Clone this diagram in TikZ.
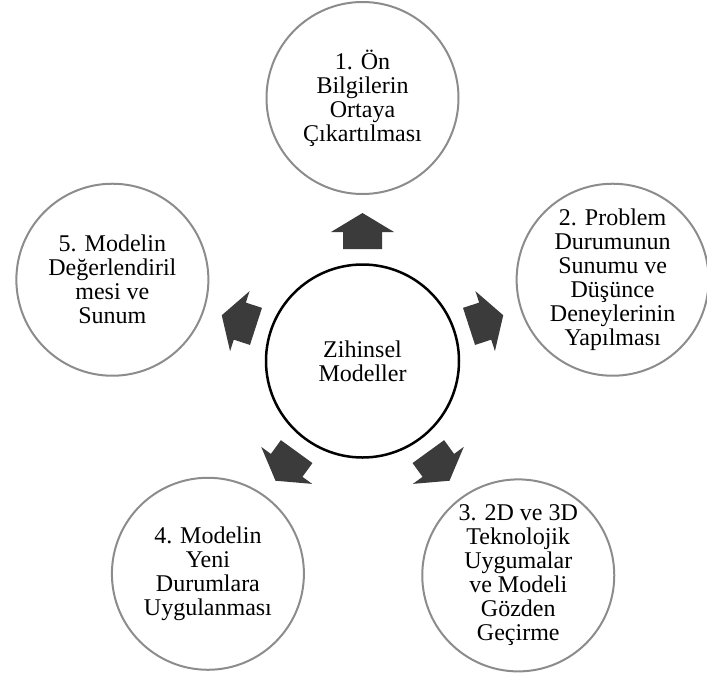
\documentclass[tikz,border=0pt]{standalone}
\usepackage{fontspec}
\setmainfont{Liberation Serif}
\usetikzlibrary{calc}
\definecolor{halkagri}{HTML}{8C8C8C}
\definecolor{okgri}{HTML}{3B3B3B}

\begin{document}
\begin{tikzpicture}[x=1pt,y=1pt,
  adim/.style={circle,draw=halkagri,line width=2pt,minimum size=192pt,inner sep=0pt,align=center,font=\fontsize{24}{24}\selectfont},
  merkezstil/.style={circle,draw=black,line width=2.5pt,minimum size=193pt,inner sep=0pt,align=center,font=\fontsize{24}{24}\selectfont}]
\useasboundingbox (0,0) rectangle (707,-675);
\coordinate (C) at (362.5,-361);
\node[merkezstil] (merkez) at (C) {Zihinsel\\Modeller};
\node[adim] (a1) at ($(C)+(90:263)$) {1. Ön\\Bilgilerin\\Ortaya\\Çıkartılması};
\node[adim] (a2) at ($(C)+(18:263)$) {2. Problem\\Durumunun\\Sunumu ve\\Düşünce\\Deneylerinin\\Yapılması};
\node[adim] (a3) at ($(C)+(-54:265)$) {3. 2D ve 3D\\Teknolojik\\Uygumalar\\ve Modeli\\Gözden\\Geçirme};
\node[adim] (a4) at ($(C)+(-126:263)$) {4. Modelin\\Yeni\\Durumlara\\Uygulanması};
\node[adim] (a5) at ($(C)+(162:263)$) {5. Modelin\\Değerlendiril\\mesi ve\\Sunum};
% blok oklar
\foreach \a in {90,18,-54,-126,162}
  \fill[okgri,shift={($(C)+(\a:130)$)},rotate=\a-90] (0,18)--(31.5,-1)--(19.5,-1)--(19.5,-18)--(-19.5,-18)--(-19.5,-1)--(-31.5,-1)--cycle;
\end{tikzpicture}
\end{document}
